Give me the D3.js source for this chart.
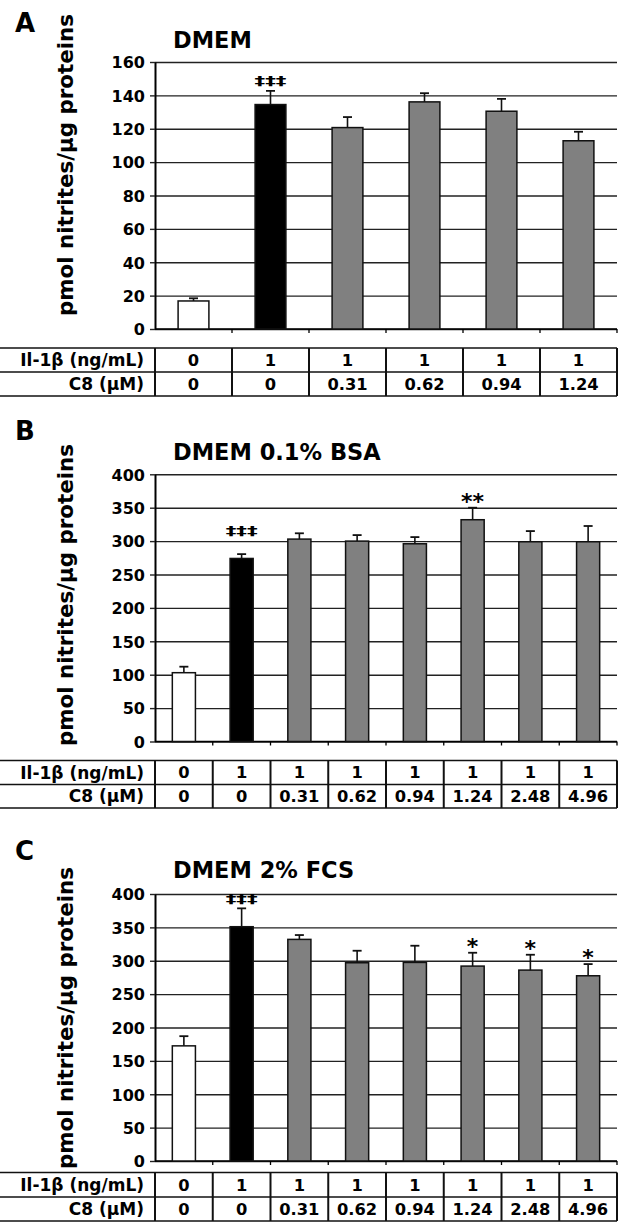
<!DOCTYPE html>
<html><head><meta charset="utf-8">
<script src="https://cdn.jsdelivr.net/npm/d3@7"></script>
<style>
html,body{margin:0;padding:0;background:#fff;}
svg{display:block;}
text{font-family:"DejaVu Sans",Verdana,sans-serif;font-weight:bold;fill:#000;}
</style></head><body>
<script>
// ---------- DATA ----------
const panelLetters = ["A", "B", "C"];
const panelTitles = ["DMEM", "DMEM 0.1% BSA", "DMEM 2% FCS"];
const yLabel = "pmol nitrites/\u00b5g proteins";
const rowLabels = ["Il-1\u03b2 (ng/mL)", "C8 (\u00b5M)"];

const il1bA = ["0", "1", "1", "1", "1", "1"];
const c8A = ["0", "0", "0.31", "0.62", "0.94", "1.24"];
const meansA = [16.8, 134.5, 120.7, 136.1, 130.5, 112.8];
const errA = [1.6, 8.2, 6.3, 5.2, 7.4, 5.4];
const groupA = ["ctrl", "il1b", "c8", "c8", "c8", "c8"];
const marksA = ["", "\u2021\u2021\u2021", "", "", "", ""];
const ticksA = [0, 20, 40, 60, 80, 100, 120, 140, 160];

const il1bB = ["0", "1", "1", "1", "1", "1", "1", "1"];
const c8B = ["0", "0", "0.31", "0.62", "0.94", "1.24", "2.48", "4.96"];
const meansB = [103, 274, 303, 300, 296, 332, 299, 299];
const errB = [9, 6.5, 8.7, 9, 10, 18, 16, 23.6];
const groupB = ["ctrl", "il1b", "c8", "c8", "c8", "c8", "c8", "c8"];
const marksB = ["", "\u2021\u2021\u2021", "", "", "", "**", "", ""];
const ticksB = [0, 50, 100, 150, 200, 250, 300, 350, 400];

const il1bC = ["0", "1", "1", "1", "1", "1", "1", "1"];
const c8C = ["0", "0", "0.31", "0.62", "0.94", "1.24", "2.48", "4.96"];
const meansC = [172.5, 351, 332, 297, 297.5, 292, 286, 277.5];
const errC = [14.5, 27.5, 6.5, 18, 25, 20, 23, 17.5];
const groupC = ["ctrl", "il1b", "c8", "c8", "c8", "c8", "c8", "c8"];
const marksC = ["", "\u2021\u2021\u2021", "", "", "", "*", "*", "*"];
const ticksC = [0, 50, 100, 150, 200, 250, 300, 350, 400];

// ---------- LAYOUT / STYLE ----------
const W = 623, H = 1222;
const X0 = 155, X1 = 617;
const fills = {ctrl: "#ffffff", il1b: "#000000", c8: "#808080"};
const layouts = [
  {top: 62, bottom: 329, rows: [348, 372, 396], letterY: 32, titleY: 48, labelC: 165, daggerLift: 5.5},
  {top: 474.3, bottom: 741.5, rows: [760.5, 784.5, 808], letterY: 440, titleY: 460, labelC: 595, daggerLift: 19},
  {top: 894, bottom: 1161, rows: [1172.5, 1197, 1221], letterY: 860, titleY: 878, labelC: 1018, daggerLift: 5}
];
const panels = [
  {il1b: il1bA, c8: c8A, means: meansA, err: errA, group: groupA, marks: marksA, ticks: ticksA},
  {il1b: il1bB, c8: c8B, means: meansB, err: errB, group: groupB, marks: marksB, ticks: ticksB},
  {il1b: il1bC, c8: c8C, means: meansC, err: errC, group: groupC, marks: marksC, ticks: ticksC}
];

const svg = d3.select("body").append("svg").attr("width", W).attr("height", H);
svg.append("rect").attr("width", W).attr("height", H).attr("fill", "#fff");

panels.forEach((p, pi) => {
  const L = layouts[pi];
  const g = svg.append("g");
  const n = p.means.length;
  const x = d3.scaleBand().domain(d3.range(n)).range([X0, X1]).paddingInner(0.6).paddingOuter(0.3);
  const yMax = d3.max(p.ticks);
  const y = d3.scaleLinear().domain([0, yMax]).range([L.bottom, L.top]);

  // letter + title
  g.append("text").attr("x", 15).attr("y", L.letterY).attr("font-size", 26).text(panelLetters[pi]);
  g.append("text").attr("x", 173).attr("y", L.titleY).attr("font-size", 22.5).text(panelTitles[pi]);

  // y label
  g.append("text").attr("transform", `translate(73,${L.labelC}) rotate(-90)`)
    .attr("text-anchor", "middle").attr("font-size", 21.4).text(yLabel);

  // gridlines
  const grid = g.append("g").attr("transform", `translate(${X0},0)`)
    .call(d3.axisLeft(y).tickValues(p.ticks).tickSize(-(X1 - X0)).tickFormat(""));
  grid.select(".domain").remove();
  grid.selectAll("line").attr("stroke", "#222").attr("stroke-width", 1.4);

  // y axis
  const ya = g.append("g").attr("transform", `translate(${X0},0)`)
    .call(d3.axisLeft(y).tickValues(p.ticks).tickSize(5).tickSizeOuter(0).tickPadding(5));
  ya.select(".domain").attr("stroke", "#000").attr("stroke-width", 2);
  ya.selectAll(".tick line").attr("stroke", "#222").attr("stroke-width", 1.4);
  ya.selectAll(".tick text").attr("font-size", 16).attr("font-family", "DejaVu Sans").attr("font-weight", "bold").attr("fill", "#000").attr("dy", "0.36em");

  // x axis baseline + ticks at band boundaries
  g.append("line").attr("x1", X0).attr("x2", X1).attr("y1", y(0)).attr("y2", y(0))
    .attr("stroke", "#000").attr("stroke-width", 1.6);
  g.selectAll(".xt").data(d3.range(1, n + 1)).enter().append("line")
    .attr("x1", k => X0 + k * x.step()).attr("x2", k => X0 + k * x.step())
    .attr("y1", y(0)).attr("y2", y(0) + 4).attr("stroke", "#000").attr("stroke-width", 1.3);

  // bars
  const bw = x.bandwidth();
  g.selectAll(".bar").data(p.means).enter().append("rect")
    .attr("x", (d, i) => x(i)).attr("width", bw)
    .attr("y", d => y(d)).attr("height", d => y(0) - y(d))
    .attr("fill", (d, i) => fills[p.group[i]]).attr("stroke", "#111").attr("stroke-width", 1.5);

  // error bars
  p.means.forEach((m, i) => {
    const cx = x(i) + bw / 2;
    const yt = y(m + p.err[i]);
    g.append("line").attr("x1", cx).attr("x2", cx).attr("y1", y(m)).attr("y2", yt)
      .attr("stroke", "#111").attr("stroke-width", 1.6);
    g.append("line").attr("x1", cx - 4.5).attr("x2", cx + 4.5).attr("y1", yt).attr("y2", yt)
      .attr("stroke", "#111").attr("stroke-width", 1.8);
    const mk = p.marks[i];
    if (mk) {
      if (mk.indexOf("\u2021") >= 0) {
        g.append("text").attr("x", cx - 16).attr("y", yt - L.daggerLift)
          .attr("font-size", 11.5).attr("textLength", 32).attr("lengthAdjust", "spacingAndGlyphs").text(mk);
      } else {
        g.append("text").attr("x", cx).attr("y", yt + 1).attr("text-anchor", "middle")
          .attr("font-size", 22).text(mk);
      }
    }
  });

  // table
  const rows = L.rows;
  rows.forEach(ry => {
    g.append("line").attr("x1", 0).attr("x2", X1).attr("y1", ry).attr("y2", ry)
      .attr("stroke", "#111").attr("stroke-width", 1.4);
  });
  g.selectAll(".vt").data(d3.range(0, n + 1)).enter().append("line")
    .attr("x1", k => X0 + k * x.step()).attr("x2", k => X0 + k * x.step())
    .attr("y1", rows[0]).attr("y2", rows[2]).attr("stroke", "#111").attr("stroke-width", 2);
  [p.il1b, p.c8].forEach((vals, r) => {
    const cy = (rows[r] + rows[r + 1]) / 2;
    g.append("text").attr("x", 144).attr("y", cy).attr("dy", "0.36em")
      .attr("text-anchor", "end").attr("font-size", 17).text(rowLabels[r]);
    g.selectAll(".cell" + r).data(vals).enter().append("text")
      .attr("x", (d, i) => x(i) + bw / 2).attr("y", cy).attr("dy", "0.36em")
      .attr("text-anchor", "middle").attr("font-size", 16.3).text(d => d);
  });
});
</script>
</body></html>
